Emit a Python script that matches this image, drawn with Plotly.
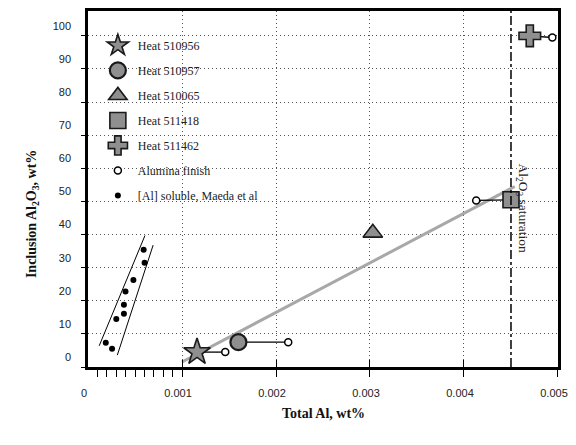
import plotly.graph_objects as go

# ---------------- data ----------------
heat_names = ["Heat 510956", "Heat 510957", "Heat 510065", "Heat 511418", "Heat 511462"]
heat_x = [0.00116, 0.00160, 0.00303, 0.00450, 0.00470]
heat_y = [4.5, 7.5, 40.5, 50.5, 100.0]
heat_symbols = ["star", "circle", "triangle-up", "square", "cross"]
heat_sizes = [20, 16, 17, 16, 18]

# alumina finish points (None = not measured)
finish_x = [0.00146, 0.00213, None, 0.00413, 0.00494]
finish_y = [4.5, 7.5, None, 50.3, 99.5]

# Maeda et al soluble Al data
maeda_x = [0.000189, 0.000256, 0.000301, 0.000382, 0.000382, 0.000399, 0.000483, 0.000602, 0.000592]
maeda_y = [7.3, 5.5, 14.5, 16.1, 18.8, 22.8, 26.3, 31.5, 35.4]

# Maeda scatter band limits
band_left_x = [0.000119, 0.000606]
band_left_y = [6.4, 39.7]
band_right_x = [0.000312, 0.000693]
band_right_y = [3.6, 36.8]

# trend line
fit_x = [0.0010, 0.00454]
fit_y = [1.5, 54.5]

# alumina saturation
sat_x = 0.0045
sat_label_x = 0.00462
sat_label_y = 47.8

x_range = [0, 0.0050001]
y_range = [0, 107.5]
x_major = [0, 0.001, 0.002, 0.003, 0.004, 0.005]
x_major_text = ["0", "0.001", "0.002", "0.003", "0.004", "0.005"]
x_minor = [0.0001, 0.0002, 0.0003, 0.0004, 0.0005, 0.0006, 0.0007, 0.0008, 0.0009,
           0.001, 0.002, 0.003, 0.004, 0.005]
y_ticks = [0, 10, 20, 30, 40, 50, 60, 70, 80, 90, 100]

# ---------------- figure ----------------
fig = go.Figure()

FILL = "#8f8f8f"
EDGE = "#1a1a1a"

# trend line
fig.add_trace(go.Scatter(x=fit_x, y=fit_y, mode="lines",
                         line=dict(color="#a8a8a8", width=3), showlegend=False, hoverinfo="skip"))

# band lines
fig.add_trace(go.Scatter(x=band_left_x, y=band_left_y, mode="lines",
                         line=dict(color="black", width=1), showlegend=False))
fig.add_trace(go.Scatter(x=band_right_x, y=band_right_y, mode="lines",
                         line=dict(color="black", width=1), showlegend=False))

# connectors heat -> finish
for hx, hy, fx, fy in zip(heat_x, heat_y, finish_x, finish_y):
    if fx is None:
        continue
    fig.add_trace(go.Scatter(x=[hx, fx], y=[hy, fy], mode="lines",
                             line=dict(color="black", width=1.3), showlegend=False))

# heats
for i, (name, hx, hy, sym, sz) in enumerate(zip(heat_names, heat_x, heat_y, heat_symbols, heat_sizes)):
    fig.add_trace(go.Scatter(x=[hx], y=[hy], mode="markers", name=name,
                             legendgroup=f"g{i}",
                             marker=dict(symbol=sym, size=sz, color=FILL,
                                         line=dict(color=EDGE, width=1.6 if sym != "circle" else 2.2))))

# alumina finish
fx_list = [v for v in finish_x if v is not None]
fy_list = [v for v in finish_y if v is not None]
fig.add_trace(go.Scatter(x=fx_list, y=fy_list, mode="markers", name="Alumina finish",
                         legendgroup="g5",
                         marker=dict(symbol="circle", size=7, color="white",
                                     line=dict(color="black", width=1.5))))

# Maeda
fig.add_trace(go.Scatter(x=maeda_x, y=maeda_y, mode="markers", name="[Al] soluble, Maeda et al",
                         legendgroup="g6",
                         marker=dict(symbol="circle", size=6, color="black")))

# invisible trace on overlay axis for minor ticks
fig.add_trace(go.Scatter(x=[x_range[0]], y=[y_range[0]], xaxis="x2", mode="markers",
                         marker=dict(opacity=0), showlegend=False, hoverinfo="skip"))

# saturation line
fig.add_vline(x=sat_x, line=dict(color="black", width=1.5, dash="dashdot"))

fig.add_annotation(x=sat_label_x, y=sat_label_y, text="Al<sub>2</sub>O<sub>3</sub> saturation",
                   textangle=90, showarrow=False,
                   font=dict(family="Liberation Serif", size=13.5, color="#222"))

# axis titles
fig.add_annotation(xref="paper", yref="paper", x=0.5, y=-0.156, text="<b>Total Al, wt%</b>",
                   showarrow=False, font=dict(family="Liberation Serif", size=14, color="#111"))
fig.add_annotation(xref="paper", yref="paper", x=-0.139, y=0.43,
                   text="<b>Inclusion Al<sub>2</sub>O<sub>3</sub>, wt%</b>", textangle=-90,
                   showarrow=False, font=dict(family="Liberation Serif", size=14, color="#111"))

grid = dict(showgrid=True, gridcolor="#555", gridwidth=1, griddash="1px,3px")
tickfont = dict(family="Liberation Sans", size=11, color="#222")

fig.update_layout(
    width=576, height=445,
    margin=dict(l=88, r=12, t=8, b=78),
    paper_bgcolor="white", plot_bgcolor="white",
    font=dict(family="Liberation Sans", size=11, color="#222"),
    showlegend=True,
    legend=dict(x=0.021, y=0.944, xanchor="left", yanchor="top",
                bgcolor="rgba(0,0,0,0)", tracegroupgap=6,
                font=dict(family="Liberation Serif", size=12, color="#222")),
    xaxis=dict(range=x_range, tickvals=x_major, ticktext=x_major_text, tickfont=tickfont,
               ticks="inside", ticklen=7, tickwidth=1.3, tickcolor="black",
               showline=True, linecolor="black", linewidth=2.5, mirror=True,
               zeroline=False, ticklabelstandoff=14, ticklabelshift=-4,
               ticklabeloverflow="allow", **grid),
    xaxis2=dict(range=x_range, overlaying="x", anchor="y", side="bottom",
                tickvals=x_minor, ticks="outside", ticklen=9, tickwidth=1.3, tickcolor="black",
                showticklabels=False, showgrid=False, showline=False, zeroline=False),
    yaxis=dict(range=y_range, tickvals=y_ticks, tickfont=tickfont,
               ticks="outside", ticklen=4, tickwidth=1.3, tickcolor="black",
               showline=True, linecolor="black", linewidth=2.5, mirror=True,
               zeroline=False, ticklabelstandoff=8, ticklabelshift=-10, **grid),
)

fig.write_html("out.html", config={"displayModeBar": False},
               post_script="document.body.style.margin='0px';")
